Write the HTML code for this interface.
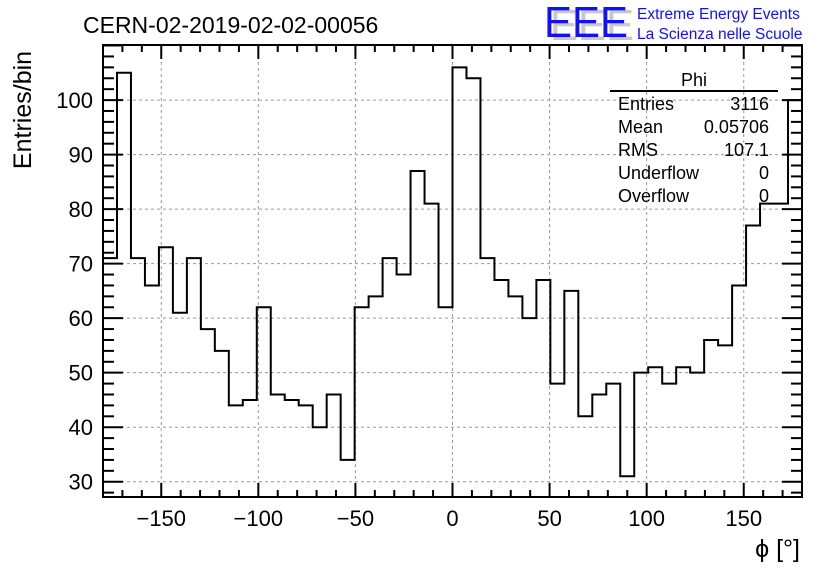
<!DOCTYPE html>
<html><head><meta charset="utf-8"><style>
body{margin:0;background:#fff;}
svg{display:block;font-family:"Liberation Sans",sans-serif;}
</style></head><body>
<svg id="chart" width="836" height="572" viewBox="0 0 836 572">
<text x="83" y="33" font-size="23">CERN-02-2019-02-02-00056</text>
<g>
<text x="550" y="40" font-size="44" fill="#c8c8c8" textLength="84" lengthAdjust="spacingAndGlyphs">EEE</text>
<text x="544" y="37" font-size="44" fill="#1010ff" textLength="84" lengthAdjust="spacingAndGlyphs">EEE</text>
<text x="637" y="19" font-size="15.5" fill="#1010ff">Extreme Energy Events</text>
<text x="637" y="39" font-size="15.5" fill="#1010ff">La Scienza nelle Scuole</text>
</g>
<g id="grid"></g><g id="axes"></g><path id="hist" fill="none" stroke="#000" stroke-width="2"/>
<rect x="103" y="45" width="699" height="452" fill="none" stroke="#000" stroke-width="2"/>
<text transform="translate(31,110) rotate(-90)" font-size="25" text-anchor="middle">Entries/bin</text>
<text x="800" y="557" font-size="25" text-anchor="end">ϕ [°]</text>
<g font-size="18">
<text x="694" y="86" text-anchor="middle">Phi</text>
<line x1="610" y1="91" x2="778" y2="91" stroke="#000" stroke-width="2"/>
<text x="618" y="110">Entries</text><text x="769" y="110" text-anchor="end">3116</text>
<text x="618" y="133">Mean</text><text x="769" y="133" text-anchor="end">0.05706</text>
<text x="618" y="156">RMS</text><text x="769" y="156" text-anchor="end">107.1</text>
<text x="618" y="179">Underflow</text><text x="769" y="179" text-anchor="end">0</text>
<text x="618" y="202">Overflow</text><text x="769" y="202" text-anchor="end">0</text>
</g>
</svg>
<script>
const binLow = -180, binWidth = 7.2;
const counts = [71,105,71,66,73,61,71,58,54,44,45,62,46,45,44,40,46,34,62,64,71,68,87,81,62,106,104,71,67,64,60,67,48,65,42,46,48,31,50,51,48,51,50,56,55,66,77,81,81,100];
const xTicks = [-150,-100,-50,0,50,100,150];
const xTickLabels = ["\u2212150","\u2212100","\u221250","0","50","100","150"];
const yTicks = [30,40,50,60,70,80,90,100];
const yTickLabels = ["30","40","50","60","70","80","90","100"];
const NS="http://www.w3.org/2000/svg";
const X0=103,X1=802,Y0=497,Y1=45,xmin=-180,xmax=180,ymin=27.2,ymax=110.1;
const sx=v=>X0+(v-xmin)/(xmax-xmin)*(X1-X0);
const sy=v=>Y0-(v-ymin)/(ymax-ymin)*(Y0-Y1);
function mk(tag,attrs,parent){const e=document.createElementNS(NS,tag);for(const k in attrs)e.setAttribute(k,attrs[k]);parent.appendChild(e);return e;}
const grid=document.getElementById('grid'),axes=document.getElementById('axes');
xTicks.forEach((t,i)=>{
  const g=mk('line',{x1:sx(t),x2:sx(t),y1:Y0,y2:Y1,stroke:'#999','stroke-dasharray':'3,3','stroke-width':1},grid);
  
  
  const l=mk('text',{x:sx(t),y:526,'font-size':22,'text-anchor':'middle'},axes);
  l.textContent=xTickLabels[i];
  
  
});
yTicks.forEach((t,i)=>{
  const g=mk('line',{x1:X0,x2:X1,y1:sy(t),y2:sy(t),stroke:'#999','stroke-dasharray':'3,3','stroke-width':1},grid);
  
  
  const l=mk('text',{x:93,y:sy(t)+8,'font-size':22,'text-anchor':'end'},axes);
  l.textContent=yTickLabels[i];
  
  
});
for(let v=-170;v<=170;v+=10){const L=(v%50===0)?14:7;
  mk('line',{x1:sx(v),x2:sx(v),y1:Y0,y2:Y0-L,stroke:'#000','stroke-width':2},axes);
  mk('line',{x1:sx(v),x2:sx(v),y1:Y1,y2:Y1+L,stroke:'#000','stroke-width':2},axes);}
for(let v=28;v<=110;v+=2){const L=(v%10===0)?20:11;
  mk('line',{x1:X0,x2:X0+L,y1:sy(v),y2:sy(v),stroke:'#000','stroke-width':2},axes);
  mk('line',{x1:X1,x2:X1-L,y1:sy(v),y2:sy(v),stroke:'#000','stroke-width':2},axes);}
let d='';
counts.forEach((c,i)=>{const a=sx(binLow+i*binWidth),b=sx(binLow+(i+1)*binWidth),y=sy(c);
  d+=(i===0?'M'+a+','+y:'L'+a+','+y)+'L'+b+','+y;});
document.getElementById('hist').setAttribute('d',d);
</script>
</body></html>
